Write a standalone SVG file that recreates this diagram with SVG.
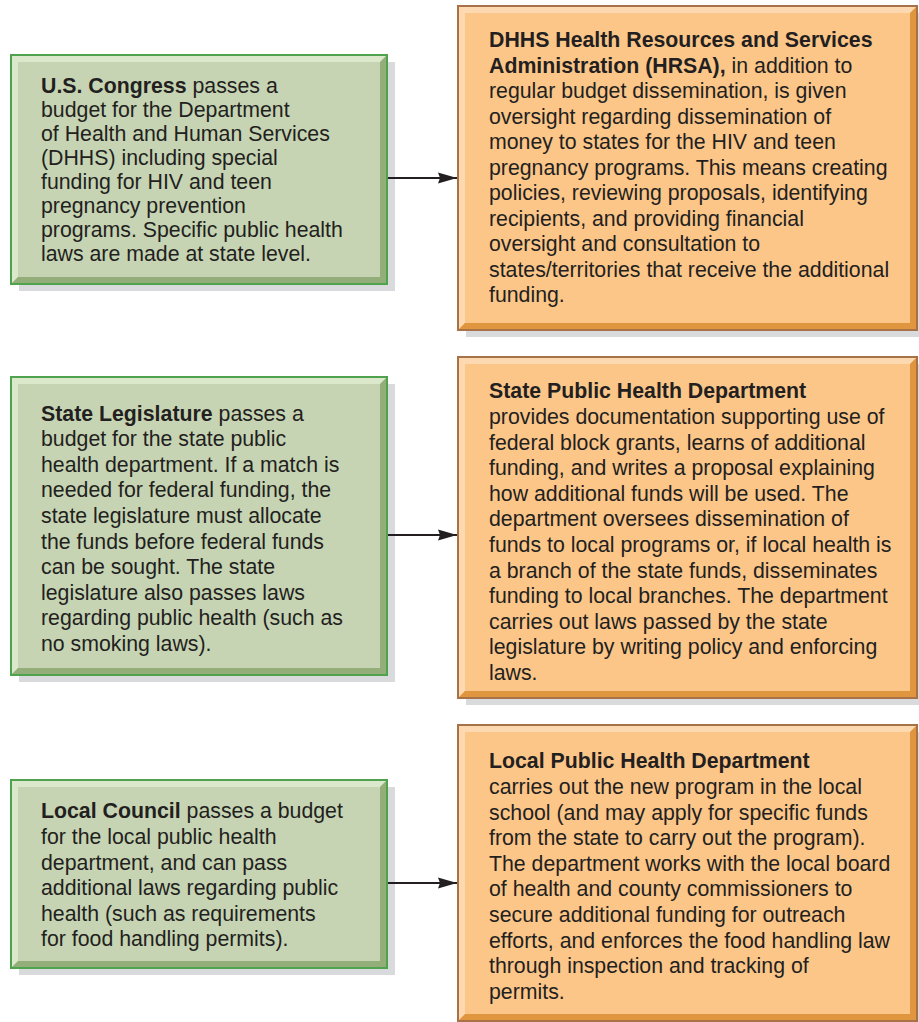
<svg xmlns="http://www.w3.org/2000/svg" width="919" height="1022" viewBox="0 0 919 1022">
<style>
.shadow{fill:#d9dadc}
.gmain{fill:#c6d4b3}
.glight{fill:#dce8cb}
.gdark{fill:#93ae78}
.gborder{fill:none;stroke:#4fa34f;stroke-width:2}
.omain{fill:#fcc689}
.olight{fill:#fdd9b2}
.odark{fill:#e0963e}
.oborder{fill:none;stroke:#a87248;stroke-width:2}
.t{font-family:"Liberation Sans",Arial,sans-serif;font-size:21.3px;fill:#231f20}
.b{font-weight:bold}
.conn{stroke:#231f20;stroke-width:2;fill:none;marker-end:url(#arr)}
</style>
<defs>
<marker id="arr" markerUnits="userSpaceOnUse" markerWidth="20" markerHeight="12" refX="19" refY="6" orient="auto">
<path d="M0,0.5 L19,6 L0,11.5 L2,6 Z" fill="#231f20"/>
</marker>
</defs>

<g id="us-congress">
<rect class="shadow" x="19" y="62" width="376" height="229"/>
<rect class="gmain" x="11" y="55" width="376" height="229"/>
<polygon class="glight" points="11,55 387,55 380,62 18,62 18,277 11,284"/>
<polygon class="gdark" points="387,55 387,284 11,284 18,277 380,277 380,62"/>
<rect class="gborder" x="11" y="55" width="376" height="229"/>
<text class="t">
<tspan x="41" y="93"><tspan class="b">U.S. Congress</tspan> passes a</tspan>
<tspan x="41" y="117">budget for the Department</tspan>
<tspan x="41" y="141">of Health and Human Services</tspan>
<tspan x="41" y="165">(DHHS) including special</tspan>
<tspan x="41" y="189">funding for HIV and teen</tspan>
<tspan x="41" y="213">pregnancy prevention</tspan>
<tspan x="41" y="237">programs. Specific public health</tspan>
<tspan x="41" y="261">laws are made at state level.</tspan>
</text>
</g>

<g id="hrsa">
<rect class="shadow" x="466" y="13" width="459" height="324"/>
<rect class="omain" x="458" y="6" width="459" height="324"/>
<polygon class="olight" points="458,6 917,6 910,13 465,13 465,323 458,330"/>
<polygon class="odark" points="917,6 917,330 458,330 465,323 910,323 910,13"/>
<rect class="oborder" x="458" y="6" width="459" height="324"/>
<text class="t">
<tspan x="489" y="47" class="b">DHHS Health Resources and Services</tspan>
<tspan x="489" y="72.5"><tspan class="b">Administration (HRSA),</tspan> in addition to</tspan>
<tspan x="489" y="98">regular budget dissemination, is given</tspan>
<tspan x="489" y="123.5">oversight regarding dissemination of</tspan>
<tspan x="489" y="149">money to states for the HIV and teen</tspan>
<tspan x="489" y="174.5">pregnancy programs. This means creating</tspan>
<tspan x="489" y="200">policies, reviewing proposals, identifying</tspan>
<tspan x="489" y="225.5">recipients, and providing financial</tspan>
<tspan x="489" y="251">oversight and consultation to</tspan>
<tspan x="489" y="276.5">states/territories that receive the additional</tspan>
<tspan x="489" y="302">funding.</tspan>
</text>
</g>

<g id="state-legislature">
<rect class="shadow" x="19" y="384" width="376" height="298"/>
<rect class="gmain" x="11" y="377" width="376" height="298"/>
<polygon class="glight" points="11,377 387,377 380,384 18,384 18,668 11,675"/>
<polygon class="gdark" points="387,377 387,675 11,675 18,668 380,668 380,384"/>
<rect class="gborder" x="11" y="377" width="376" height="298"/>
<text class="t">
<tspan x="41" y="420.5"><tspan class="b">State Legislature</tspan> passes a</tspan>
<tspan x="41" y="446.1">budget for the state public</tspan>
<tspan x="41" y="471.7">health department. If a match is</tspan>
<tspan x="41" y="497.3">needed for federal funding, the</tspan>
<tspan x="41" y="522.9">state legislature must allocate</tspan>
<tspan x="41" y="548.5">the funds before federal funds</tspan>
<tspan x="41" y="574.1">can be sought. The state</tspan>
<tspan x="41" y="599.7">legislature also passes laws</tspan>
<tspan x="41" y="625.3">regarding public health (such as</tspan>
<tspan x="41" y="650.9">no smoking laws).</tspan>
</text>
</g>

<g id="state-phd">
<rect class="shadow" x="466" y="364" width="459" height="341"/>
<rect class="omain" x="458" y="357" width="459" height="341"/>
<polygon class="olight" points="458,357 917,357 910,364 465,364 465,691 458,698"/>
<polygon class="odark" points="917,357 917,698 458,698 465,691 910,691 910,364"/>
<rect class="oborder" x="458" y="357" width="459" height="341"/>
<text class="t">
<tspan x="489" y="398.3" class="b">State Public Health Department</tspan>
<tspan x="489" y="423.9">provides documentation supporting use of</tspan>
<tspan x="489" y="449.5">federal block grants, learns of additional</tspan>
<tspan x="489" y="475.1">funding, and writes a proposal explaining</tspan>
<tspan x="489" y="500.7">how additional funds will be used. The</tspan>
<tspan x="489" y="526.3">department oversees dissemination of</tspan>
<tspan x="489" y="551.9">funds to local programs or, if local health is</tspan>
<tspan x="489" y="577.5">a branch of the state funds, disseminates</tspan>
<tspan x="489" y="603.1">funding to local branches. The department</tspan>
<tspan x="489" y="628.7">carries out laws passed by the state</tspan>
<tspan x="489" y="654.3">legislature by writing policy and enforcing</tspan>
<tspan x="489" y="679.9">laws.</tspan>
</text>
</g>

<g id="local-council">
<rect class="shadow" x="19" y="787" width="376" height="188"/>
<rect class="gmain" x="11" y="780" width="376" height="188"/>
<polygon class="glight" points="11,780 387,780 380,787 18,787 18,961 11,968"/>
<polygon class="gdark" points="387,780 387,968 11,968 18,961 380,961 380,787"/>
<rect class="gborder" x="11" y="780" width="376" height="188"/>
<text class="t">
<tspan x="41" y="818.3"><tspan class="b">Local Council</tspan> passes a budget</tspan>
<tspan x="41" y="843.9">for the local public health</tspan>
<tspan x="41" y="869.5">department, and can pass</tspan>
<tspan x="41" y="895.1">additional laws regarding public</tspan>
<tspan x="41" y="920.7">health (such as requirements</tspan>
<tspan x="41" y="946.3">for food handling permits).</tspan>
</text>
</g>

<g id="local-phd">
<rect class="shadow" x="466" y="732" width="459" height="296"/>
<rect class="omain" x="458" y="725" width="459" height="296"/>
<polygon class="olight" points="458,725 917,725 910,732 465,732 465,1014 458,1021"/>
<polygon class="odark" points="917,725 917,1021 458,1021 465,1014 910,1014 910,732"/>
<rect class="oborder" x="458" y="725" width="459" height="296"/>
<text class="t">
<tspan x="489" y="768.3" class="b">Local Public Health Department</tspan>
<tspan x="489" y="793.9">carries out the new program in the local</tspan>
<tspan x="489" y="819.5">school (and may apply for specific funds</tspan>
<tspan x="489" y="845.1">from the state to carry out the program).</tspan>
<tspan x="489" y="870.7">The department works with the local board</tspan>
<tspan x="489" y="896.3">of health and county commissioners to</tspan>
<tspan x="489" y="921.9">secure additional funding for outreach</tspan>
<tspan x="489" y="947.5">efforts, and enforces the food handling law</tspan>
<tspan x="489" y="973.1">through inspection and tracking of</tspan>
<tspan x="489" y="998.7">permits.</tspan>
</text>
</g>

<g id="connectors">
<line class="conn" x1="388" y1="178" x2="457" y2="178"/>
<line class="conn" x1="388" y1="535" x2="457" y2="535"/>
<line class="conn" x1="388" y1="883" x2="457" y2="883"/>
</g>
</svg>
